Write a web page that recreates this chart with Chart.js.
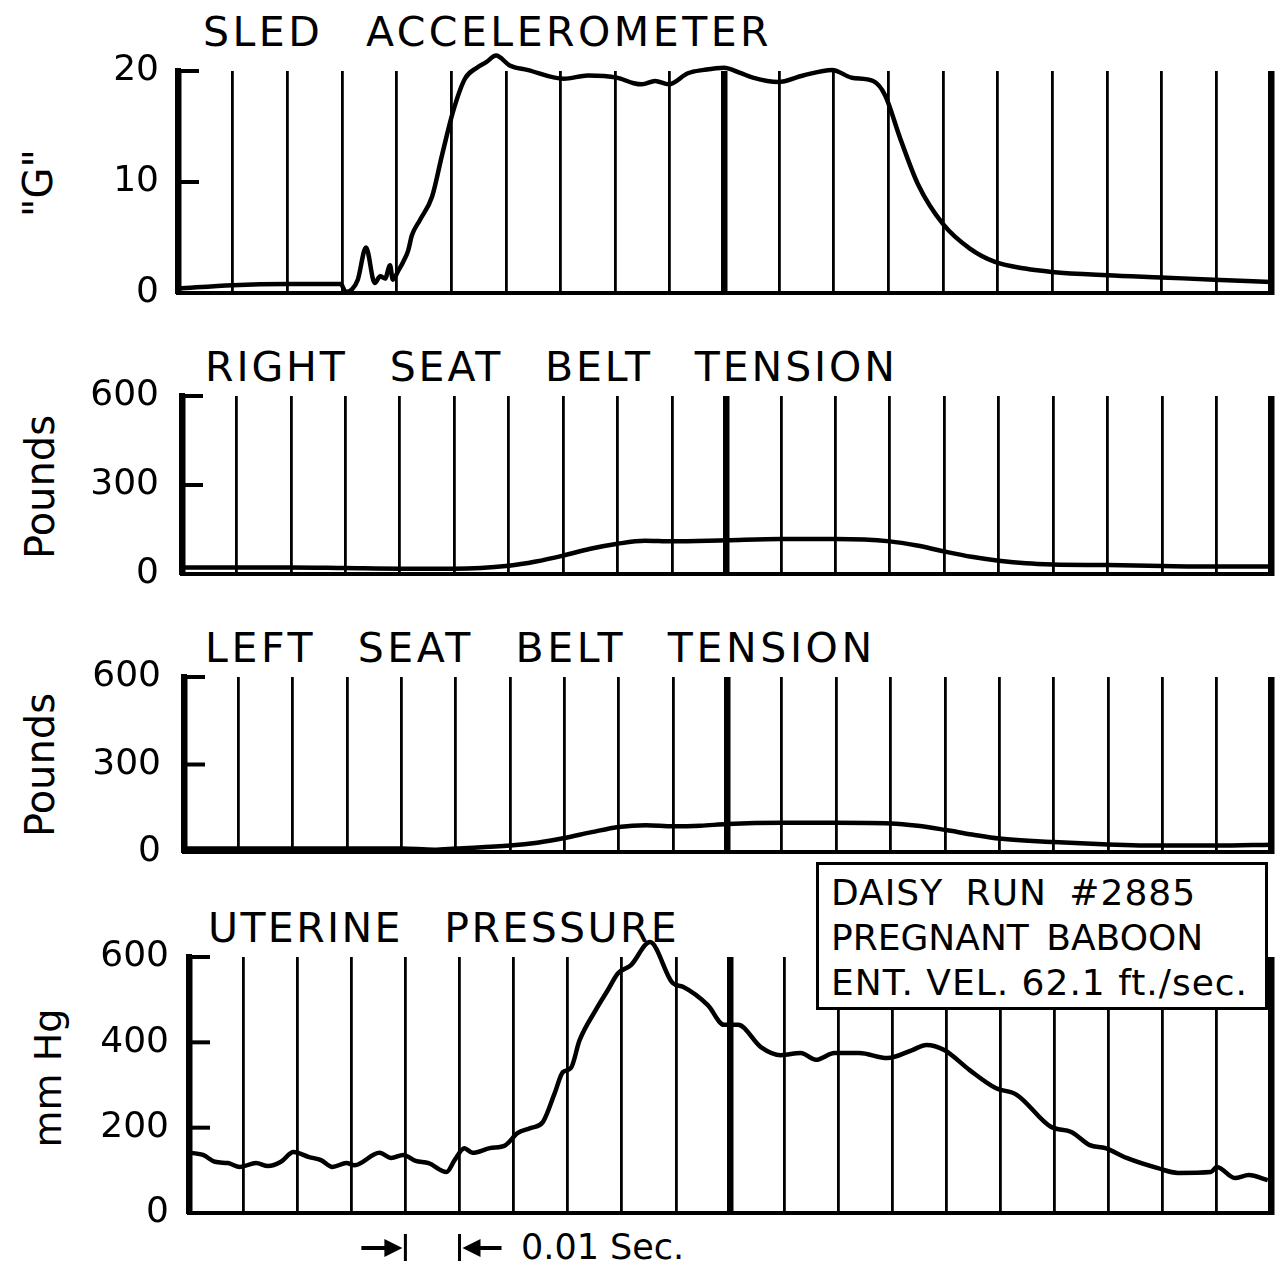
<!DOCTYPE html>
<html><head><meta charset="utf-8">
<script src="https://cdn.jsdelivr.net/npm/chart.js@4.4.1/dist/chart.umd.min.js"></script>
<style>
html,body{margin:0;padding:0;background:#fff;}
body{width:1275px;height:1261px;position:relative;overflow:hidden;font-family:"DejaVu Sans";color:#000;}
canvas{position:absolute;left:0;}
.t{position:absolute;font-size:41px;line-height:41px;word-spacing:26px;white-space:nowrap;}
.yl{position:absolute;white-space:nowrap;transform:translate(-50%,-50%) rotate(-90deg);line-height:1;}
#box{position:absolute;left:816px;top:862px;width:434px;height:137px;border:3px solid #000;background:#fff;z-index:5;
 font-size:36px;line-height:45px;padding:5px 0 0 12px;box-sizing:content-box;white-space:nowrap;}
#sec{position:absolute;left:521px;top:1230px;font-size:35px;line-height:35px;white-space:nowrap;}
</style></head>
<body>
<div class="t" style="left:203px;top:12px;letter-spacing:3.5px">SLED ACCELEROMETER</div>
<div class="t" style="left:205px;top:347px;letter-spacing:2.9px">RIGHT SEAT BELT TENSION</div>
<div class="t" style="left:205px;top:628px;letter-spacing:3.6px;word-spacing:25px">LEFT SEAT BELT TENSION</div>
<div class="t" style="left:208px;top:908px;letter-spacing:2.4px">UTERINE PRESSURE</div>
<div class="yl" style="left:38px;top:183px;font-size:40px">"G"</div>
<div class="yl" style="left:40px;top:487px;font-size:40px">Pounds</div>
<div class="yl" style="left:40px;top:765px;font-size:40px">Pounds</div>
<div class="yl" style="left:48px;top:1078px;font-size:38px">mm Hg</div>
<div id="box"><span style="letter-spacing:1px;word-spacing:10px">DAISY RUN #2885</span><br><span style="word-spacing:6px">PREGNANT BABOON</span><br><span style="letter-spacing:1px">ENT. VEL. 62.1 ft./sec.</span></div>
<div id="sec">0.01 Sec.</div>
<canvas id="c1" width="1275" height="322"></canvas>
<canvas id="c2" width="1275" height="278"></canvas>
<canvas id="c3" width="1275" height="275"></canvas>
<canvas id="c4" width="1275" height="356"></canvas>
<script>
// time axis: 20 intervals of 0.01 sec
const gridTicks = [0,1,2,3,4,5,6,7,8,9,10,11,12,13,14,15,16,17,18,19,20];
const gTicks = [0,10,20];
const poundTicks = [0,300,600];
const mmHgTicks = [0,200,400,600];

const sledTime = [0,1,2,2.98,3.07,3.18,3.29,3.44,3.6,3.7,3.79,3.88,3.93,4.03,4.12,4.21,4.28,4.43,4.65,4.83,5.03,5.25,5.47,5.64,5.82,6.07,6.39,7.06,7.5,8.03,8.34,8.49,8.73,8.98,9.33,9.62,9.99,10.3,10.52,10.98,11.44,11.97,12.33,12.72,12.94,13.21,13.54,14.0,14.49,14.95,15.5,15.99,17.0,17.99,18.96,20];
const sledG = [0.4,0.7,0.8,0.8,0.1,0.3,1.2,4.1,0.9,1.5,1.3,2.5,1.2,2.0,2.8,3.8,5.2,6.6,8.7,12.4,16.3,19.3,20.3,20.8,21.4,20.5,20.1,19.3,19.6,19.4,18.9,18.8,19.1,18.8,19.8,20.1,20.3,19.8,19.4,19.0,19.6,20.1,19.4,19.1,17.8,14.0,9.8,6.2,4.0,2.8,2.2,1.9,1.6,1.4,1.2,1.0];

const rightTime = [0,1,2,3,4,5,6,6.5,7,7.5,8,8.5,9,10,11,12,13,13.5,14,14.5,15,15.5,16,17,18,19,20];
const rightLb = [22,22,22,20,18,18,28,42,62,85,102,112,110,114,118,118,110,96,76,58,45,36,32,30,27,25,25];

const leftTime = [0,1,2,3,4,4.6,5,6,6.5,7,7.5,8,8.5,9,9.5,10,11,12,13,13.5,14,14.5,15,16,17,18,19,20];
const leftLb = [12,12,12,12,12,8,12,22,32,48,68,86,92,88,90,96,100,100,98,90,76,60,46,34,26,22,22,25];

const uterTime = [0.04,0.26,0.48,0.72,0.94,1.24,1.46,1.70,1.93,2.22,2.44,2.65,2.91,3.06,3.52,3.74,3.96,4.19,4.43,4.76,4.91,5.09,5.24,5.56,5.85,6.07,6.31,6.54,6.76,6.91,7.06,7.22,7.52,7.74,7.93,8.17,8.52,8.94,9.13,9.59,9.89,10.15,10.57,10.94,11.31,11.59,11.93,12.39,12.91,13.37,13.63,13.96,14.43,14.91,15.30,15.93,16.31,16.65,16.94,17.33,17.91,18.28,18.89,19.0,19.33,19.59,19.94];
const uterMmHg = [141,136,120,117,108,117,110,120,143,131,124,108,117,112,141,129,136,122,117,96,124,152,141,152,159,187,199,213,281,330,340,405,476,522,562,581,635,539,530,487,441,441,389,370,375,359,375,375,363,382,394,382,335,293,277,202,190,159,152,129,105,94,96,108,82,89,77];

const markFrom = 4, markTo = 5;

Chart.defaults.font.family = 'DejaVu Sans';
Chart.defaults.color = '#000';

const inwardTicks = {
  id: 'inwardTicks',
  afterDraw(chart) {
    const {ctx, chartArea, scales} = chart;
    const y = scales.y;
    ctx.save();
    ctx.strokeStyle = '#000';
    ctx.lineWidth = 4;
    y.ticks.forEach(t => {
      if (t.value === 0) return;
      const p = y.getPixelForValue(t.value);
      ctx.beginPath();
      ctx.moveTo(chartArea.left, p);
      ctx.lineTo(chartArea.left + 21, p);
      ctx.stroke();
    });
    ctx.restore();
  }
};

const intervalArrows = {
  id: 'intervalArrows',
  afterDraw(chart) {
    const o = chart.options.plugins.intervalArrows;
    if (!o || !o.show) return;
    const {ctx, chartArea, scales} = chart;
    const a = scales.x.getPixelForValue(markFrom);
    const b = scales.x.getPixelForValue(markTo);
    const yc = chartArea.bottom + 35;
    ctx.save();
    ctx.fillStyle = '#000';
    ctx.strokeStyle = '#000';
    ctx.lineWidth = 4;
    ctx.beginPath(); ctx.moveTo(a - 44, yc); ctx.lineTo(a - 18, yc); ctx.stroke();
    ctx.beginPath(); ctx.moveTo(a - 21, yc - 9); ctx.lineTo(a - 3, yc); ctx.lineTo(a - 21, yc + 9); ctx.closePath(); ctx.fill();
    ctx.lineWidth = 3;
    ctx.beginPath(); ctx.moveTo(a, yc - 14); ctx.lineTo(a, yc + 14); ctx.stroke();
    ctx.beginPath(); ctx.moveTo(b, yc - 14); ctx.lineTo(b, yc + 14); ctx.stroke();
    ctx.lineWidth = 4;
    ctx.beginPath(); ctx.moveTo(b + 18, yc); ctx.lineTo(b + 42, yc); ctx.stroke();
    ctx.beginPath(); ctx.moveTo(b + 21, yc - 9); ctx.lineTo(b + 3, yc); ctx.lineTo(b + 21, yc + 9); ctx.closePath(); ctx.fill();
    ctx.restore();
  }
};

function buildConfig(times, values, yMax, yTicks, leftPx, labelPad, arrows) {
  const pts = times.map((t, i) => ({x: t, y: values[i]}));
  return {
    type: 'line',
    data: {datasets: [{data: pts, borderColor: '#000', borderWidth: 4.5, pointRadius: 0,
      cubicInterpolationMode: 'monotone', fill: false, clip: false}]},
    options: {
      responsive: false, animation: false, devicePixelRatio: 1,
      layout: {padding: {top: 50, bottom: 50, left: 0, right: 4}},
      plugins: {legend: {display: false}, tooltip: {enabled: false}, title: {display: false},
        intervalArrows: {show: arrows}},
      scales: {
        x: {type: 'linear', min: 0, max: 20,
          afterBuildTicks: s => { s.ticks = gridTicks.map(v => ({value: v})); },
          afterFit: s => { s.height = 0; },
          ticks: {display: false},
          grid: {color: '#000', drawTicks: false,
            lineWidth: c => (c.tick && c.tick.value % 10 === 0) ? 6.5 : 2.8},
          border: {display: true, color: '#000', width: 4}},
        y: {type: 'linear', min: 0, max: yMax,
          afterBuildTicks: s => { s.ticks = yTicks.map(v => ({value: v})); },
          afterFit: s => { s.width = leftPx; },
          ticks: {color: '#000', font: {family: 'DejaVu Sans', size: 36}, padding: labelPad},
          grid: {display: false},
          border: {display: true, color: '#000', width: 6}}
      }
    },
    plugins: [inwardTicks, intervalArrows]
  };
}

function makePanel(id, times, values, yMax, yTicks, leftPx, labelPad, arrows, targetTop, targetBottom) {
  const canvas = document.getElementById(id);
  const wantH = targetBottom - targetTop;
  let h = wantH + 100;
  canvas.width = 1275; canvas.height = h;
  canvas.style.width = '1275px'; canvas.style.height = h + 'px';
  let chart = new Chart(canvas, buildConfig(times, values, yMax, yTicks, leftPx, labelPad, arrows));
  const gotH = chart.chartArea.bottom - chart.chartArea.top;
  if (Math.abs(gotH - wantH) > 0.5) {
    chart.destroy();
    h = h + (wantH - gotH);
    canvas.width = 1275; canvas.height = h;
    canvas.style.width = '1275px'; canvas.style.height = h + 'px';
    chart = new Chart(canvas, buildConfig(times, values, yMax, yTicks, leftPx, labelPad, arrows));
  }
  canvas.style.top = (targetTop - chart.chartArea.top) + 'px';
  return chart;
}

makePanel('c1', sledTime, sledG, 20, gTicks, 178, 11, false, 71, 293);
makePanel('c2', rightTime, rightLb, 600, poundTicks, 182, 15, false, 396, 574);
makePanel('c3', leftTime, leftLb, 600, poundTicks, 184, 15, false, 677, 852);
makePanel('c4', uterTime, uterMmHg, 600, mmHgTicks, 189, 12, true, 957, 1213);
</script>
</body></html>
